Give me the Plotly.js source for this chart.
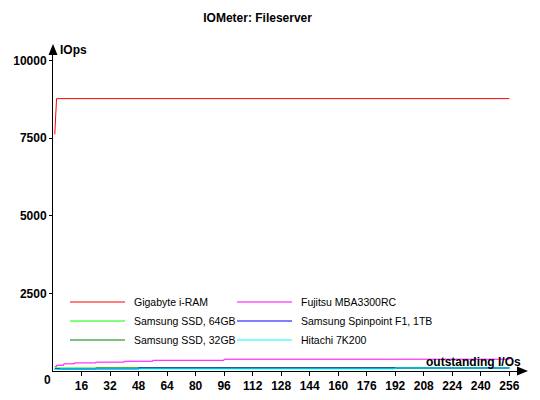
<!DOCTYPE html>
<html>
<head>
<meta charset="utf-8">
<script src="https://cdn.plot.ly/plotly-3.0.1.min.js"></script>
<style>html,body{margin:0;padding:0;background:#fff;}#chart{width:540px;height:400px;}</style>
</head>
<body>
<div id="chart"></div>
<script>
// Series names
const seriesNames = ["Gigabyte i-RAM", "Fujitsu MBA3300RC", "Samsung SSD, 64GB", "Samsung Spinpoint F1, 1TB", "Samsung SSD, 32GB", "Hitachi 7K200"];
const seriesColors = ["#ff0000", "#ff00ff", "#00ff00", "#0000ff", "#008000", "#00ffff"];

// Values (x = outstanding I/Os, y = IOps)
const iramX = [1, 2, 256];
const iramY = [7620, 8770, 8770];

const fujitsuX = [1, 2, 6, 12, 24, 40, 56, 96, 256];
const fujitsuY = [140, 185, 230, 260, 285, 315, 345, 380, 385];

const ssd64X = [1, 256];
const ssd64Y = [97, 97];

const ssd32X = [1, 24, 256];
const ssd32Y = [65, 97, 97];

const spinpointX = [1, 48, 256];
const spinpointY = [65, 97, 97];

const hitachiX = [1, 4, 192, 256];
const hitachiY = [45, 65, 97, 97];

// Axis ticks
const xTickVals = [16, 32, 48, 64, 80, 96, 112, 128, 144, 160, 176, 192, 208, 224, 240, 256];
const yTickVals = [2500, 5000, 7500, 10000];

// drawing order as in the source chart
const order = [
  {x: iramX, y: iramY, i: 0},
  {x: ssd64X, y: ssd64Y, i: 2},
  {x: ssd32X, y: ssd32Y, i: 4},
  {x: fujitsuX, y: fujitsuY, i: 1},
  {x: spinpointX, y: spinpointY, i: 3},
  {x: hitachiX, y: hitachiY, i: 5}
];

const traces = order.map(o => ({
  type: 'scatter', mode: 'lines',
  x: o.x, y: o.y,
  name: seriesNames[o.i],
  line: {color: seriesColors[o.i], width: 1, shape: o.i === 0 ? 'linear' : 'hv'},
  hoverinfo: 'skip', showlegend: false
}));

const W = 540, H = 400;
const L = 53, R = 20, T = 48, B = 29;
const pw = W - L - R, ph = H - T - B;
function px(xp) { return (xp - L) / pw; }
function py(yp) { return (H - B - yp) / ph; }

const FAM = 'Liberation Sans, Arial, sans-serif';
const boldFont = {family: FAM, size: 12, color: '#000', weight: 'bold'};

// legend (2 columns, row-major), drawn as paper-space decoration
const legendCols = [70, 237];
const legendRows = [302, 321, 340];
const legendShapes = [], legendAnn = [];
seriesNames.forEach((name, k) => {
  const c = k % 2, r = Math.floor(k / 2);
  const x0 = legendCols[c], yy = legendRows[r];
  legendShapes.push({type: 'line', xref: 'paper', yref: 'paper',
    x0: px(x0), x1: px(x0 + 55), y0: py(yy), y1: py(yy),
    line: {color: seriesColors[k], width: 1}});
  legendAnn.push({text: name, xref: 'paper', yref: 'paper', x: px(x0 + 62), y: py(yy),
    xanchor: 'left', yanchor: 'middle', showarrow: false,
    font: {family: FAM, size: 10.5, color: '#000'}});
});

const layout = {
  width: W, height: H,
  margin: {l: L, r: R, t: T, b: B, pad: 0},
  paper_bgcolor: '#fff', plot_bgcolor: '#fff',
  title: {text: 'IOMeter: Fileserver', x: 0.477, xanchor: 'center', y: 1 - 18 / H, yanchor: 'middle',
          font: {family: FAM, size: 12, color: '#000', weight: 'bold'}},
  showlegend: false,
  xaxis: {
    range: [0, 262], showgrid: false, zeroline: false,
    showline: true, linecolor: '#000', linewidth: 1,
    ticks: 'outside', ticklen: 4, tickcolor: '#000', tickwidth: 1,
    tickvals: xTickVals, ticktext: xTickVals.map(String),
    tickfont: {family: FAM, size: 12, color: '#000', weight: 'bold'},
    fixedrange: true
  },
  yaxis: {
    range: [0, 10400], showgrid: false, zeroline: false,
    showline: true, linecolor: '#000', linewidth: 1,
    ticks: 'outside', ticklen: 3, tickcolor: '#000', tickwidth: 1,
    tickvals: yTickVals, ticktext: yTickVals.map(String),
    tickfont: {family: FAM, size: 12, color: '#000', weight: 'bold'},
    fixedrange: true
  },
  shapes: [
    // y axis arrowhead
    {type: 'path', xref: 'paper', yref: 'paper',
     path: `M ${px(53)} ${py(44)} L ${px(48.5)} ${py(55)} L ${px(57.5)} ${py(55)} Z`,
     fillcolor: '#000', line: {color: '#000', width: 0}},
    // x axis arrowhead
    {type: 'path', xref: 'paper', yref: 'paper',
     path: `M ${px(528)} ${py(371)} L ${px(517)} ${py(366.5)} L ${px(517)} ${py(375.5)} Z`,
     fillcolor: '#000', line: {color: '#000', width: 0}}
  ].concat(legendShapes),
  annotations: [
    {text: 'IOps', xref: 'paper', yref: 'paper', x: px(58), y: py(50), xanchor: 'left', yanchor: 'middle',
     showarrow: false, font: boldFont},
    {text: 'outstanding I/Os', xref: 'paper', yref: 'paper', x: px(523), y: py(362), xanchor: 'right', yanchor: 'middle',
     showarrow: false, font: boldFont},
    {text: '0', xref: 'paper', yref: 'paper', x: px(47), y: py(380), xanchor: 'center', yanchor: 'middle',
     showarrow: false, font: boldFont}
  ].concat(legendAnn)
};

Plotly.newPlot('chart', traces, layout, {displayModeBar: false, staticPlot: true});
</script>
</body>
</html>
